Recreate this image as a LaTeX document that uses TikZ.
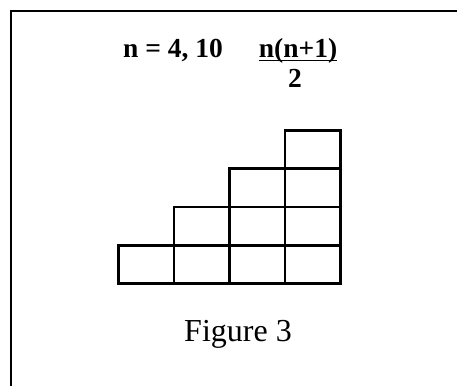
\documentclass[tikz,border=0pt]{standalone}
\usepackage{fontspec}
\setmainfont{Liberation Serif}
\usetikzlibrary{positioning}

\begin{document}
\begin{tikzpicture}[x=1pt, y=-1pt,
    formula/.style={inner sep=0pt, font=\fontsize{27.5}{30}\selectfont\bfseries},
    cell/.style={draw, line width=2.6pt}]
  % Page area and frame
  \useasboundingbox (0,0) rectangle (457,385);
  \clip (0,0) rectangle (457,385);
  \draw[line width=2pt] (11,400) -- (11,11) -- (470,11);

  % Formula line
  \node[formula, anchor=base west] (count) at (123,58) {n = 4, 10};
  \node[formula, anchor=base] (numer) at (298,58) {n(n+1)};
  \draw[line width=1.4pt] ([yshift=-2.5pt]numer.base west) -- ([yshift=-2.5pt]numer.base east);
  \node[formula, anchor=base] (denom) at (295,88) {2};

  % Staircase of squares
  \foreach \c in {0,...,3}
    \foreach \r in {0,...,\c}
      \draw[cell] (118.5+55.5*\c, 283.5-38.25*\r) rectangle ++(55.5,-38.25);

  % Caption
  \node[anchor=base, inner sep=0pt, font=\fontsize{32}{36}\selectfont] (caption) at (238,341) {Figure 3};
\end{tikzpicture}
\end{document}
